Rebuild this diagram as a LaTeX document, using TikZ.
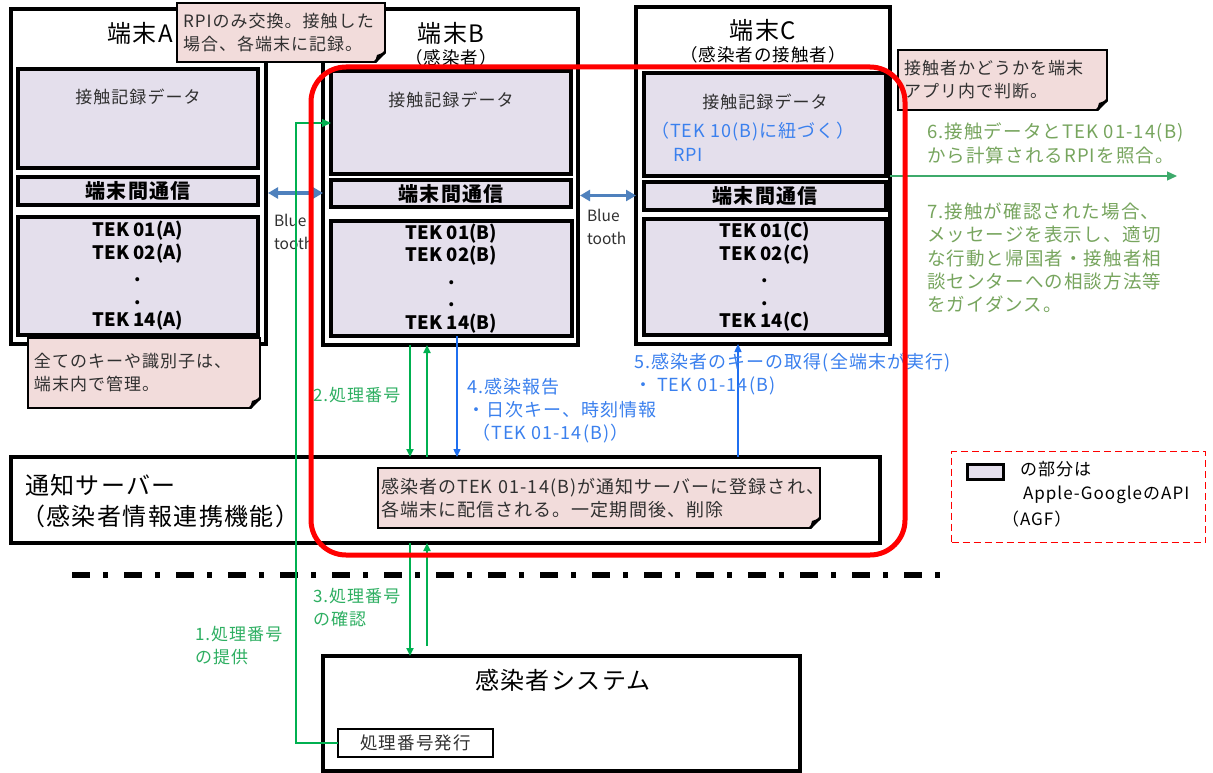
\documentclass[tikz,border=0pt]{standalone}
\usepackage{fontspec}
\setmainfont{Noto Sans CJK JP}[LetterSpace=6]
\newfontfamily\plainf{Noto Sans CJK JP}
\usetikzlibrary{arrows.meta,calc}
\definecolor{lav}{HTML}{E4DFEC}
\definecolor{pinkc}{HTML}{F2DCDB}
\definecolor{grn}{HTML}{00B050}
\definecolor{grntxt}{HTML}{2EAF62}
\definecolor{olive}{HTML}{77A55E}
\definecolor{arr6}{HTML}{3DAA6B}
\definecolor{blu}{HTML}{1F6FF0}
\definecolor{blutxt}{HTML}{3A80EE}
\definecolor{btc}{HTML}{4F81BD}
\definecolor{dtxt}{HTML}{303030}
\newcommand\fs[2]{\fontsize{#1}{#2}\selectfont}
\begin{document}
\begin{tikzpicture}[x=1pt,y=-1pt,
  outer/.style={draw=black,line width=4.5pt,fill=white,inner sep=0pt,outer sep=0pt,anchor=north west},
  inner/.style={draw=black,line width=3.5pt,fill=lav,inner sep=0pt,outer sep=0pt,anchor=north west},
  callout/.style={draw=black,line width=2.5pt,fill=pinkc,align=left,inner xsep=6pt,inner ysep=0pt,outer sep=0pt,anchor=north west,font=\fs{17}{23},text=dtxt},
  txt/.style={inner sep=0pt,outer sep=0pt,align=center},
  ltxt/.style={inner sep=0pt,outer sep=0pt,align=left,anchor=north west},
  title/.style={txt,font=\fs{24}{28}},
  sub/.style={txt,font=\fs{17.5}{20}},
  datat/.style={txt,font=\fs{17}{20},text=dtxt},
  commt/.style={txt,font=\bfseries\fs{20}{22}},
  tekt/.style={txt,font=\plainf\bfseries\fs{18.5}{22.5}},
  bt/.style={draw=btc,line width=3.5pt,{Triangle[length=10pt,width=11pt]}-{Triangle[length=10pt,width=11pt]}},
  garr/.style={draw=grn,line width=1.8pt,-{Triangle[length=8pt,width=7pt]}},
  g1/.style={draw=grn,line width=1.2pt,-{Triangle[length=9pt,width=8pt]}},
  barr/.style={draw=blu,line width=1.4pt,-{Triangle[length=8pt,width=7pt]}},
  gl/.style={ltxt,text=grntxt,font=\fs{17}{23}},
  bl/.style={ltxt,text=blutxt,font=\fs{18}{23}},
  ol/.style={ltxt,text=olive,font=\fs{18.5}{23.3}},
  fold/.style={fill=black}
]
\useasboundingbox (0,0) rectangle (1213,773);
\fill[white] (0,0) rectangle (1213,773);

% ---------- terminal A
\node[outer,minimum width=255,minimum height=335] (A) at (11,9) {};
\node[title] (tA) at (140,33) {端末A};
\node[inner,minimum width=240,minimum height=99] (Ad) at (18,69) {};
\node[datat] (Adt) at (Ad.center|-0,97) {接触記録データ};
\node[inner,minimum width=240,minimum height=28] (Ac) at (18,177) {};
\node[commt] (Act) at (Ac.center) {端末間通信};
\node[inner,minimum width=240,minimum height=118] (At) at (18,217) {};
\node[tekt] (Att) at (At.center) {TEK 01(A)\\TEK 02(A)\\.\\.\\TEK 14(A)};

% ---------- terminal B
\node[outer,minimum width=255,minimum height=336] (B) at (323,9) {};
\node[title] (tB) at (451,33) {端末B};
\node[sub] (sB) at (451,58) {（感染者）};
\node[inner,minimum width=240,minimum height=103] (Bd) at (331,71) {};
\node[datat] (Bdt) at (Bd.center|-0,100) {接触記録データ};
\node[inner,minimum width=240,minimum height=27] (Bc) at (331,180) {};
\node[commt] (Bct) at (Bc.center) {端末間通信};
\node[inner,minimum width=241,minimum height=115] (Bt) at (331,221) {};
\node[tekt] (Btt) at (Bt.center) {TEK 01(B)\\TEK 02(B)\\.\\.\\TEK 14(B)};

% ---------- terminal C
\node[outer,minimum width=254,minimum height=337] (C) at (636,7) {};
\node[title] (tC) at (763,30) {端末C};
\node[sub] (sC) at (763,55) {（感染者の接触者）};
\node[inner,minimum width=242,minimum height=103] (Cd) at (644,73) {};
\node[datat] (Cdt) at (Cd.center|-0,102) {接触記録データ};
\node[bl,anchor=west] (Cb1) at (651,132) {（TEK 10(B)に紐づく）};
\node[bl,anchor=west] (Cb2) at (673,155) {RPI};
\node[inner,minimum width=242,minimum height=28] (Cc) at (644,182) {};
\node[commt] (Cct) at (Cc.center) {端末間通信};
\node[inner,minimum width=242,minimum height=116] (Ct) at (644,219) {};
\node[tekt] (Ctt) at (Ct.center) {TEK 01(C)\\TEK 02(C)\\.\\.\\TEK 14(C)};

% ---------- callouts
\node[callout,text width=196,minimum height=59] (co1) at (177,3) {RPIのみ交換。接触した\\場合、各端末に記録。};
\node[callout,text width=220,minimum height=70] (co2) at (28,338) {全てのキーや識別子は、\\端末内で管理。};
\node[callout,text width=197,minimum height=60] (co3) at (898,50) {接触者かどうかを端末\\アプリ内で判断。};

% ---------- server
\node[outer,minimum width=869,minimum height=86] (S) at (11,457) {};
\node[ltxt,anchor=west,font=\fs{24}{28}] (St1) at (25,485) {通知サーバー};
\node[ltxt,anchor=west,font=\fs{24}{28}] (St2) at (21,516) {（感染者情報連携機能）};
\node[callout,inner xsep=3pt,text width=436,minimum height=60,font=\fs{18}{23}] (co4) at (378,468) {感染者のTEK 01-14(B)が通知サーバーに登録され、\\各端末に配信される。一定期間後、削除};

% ---------- infected system
\node[outer,minimum width=477,minimum height=115] (Sys) at (323,656) {};
\node[title] (Syst) at (563,680) {感染者システム};
\node[draw=black,line width=2.5pt,fill=white,minimum width=155,minimum height=28,inner sep=0pt,outer sep=0pt,anchor=north west,font=\fs{17.5}{20},text=dtxt] (iss) at (338,729) {処理番号発行};

% ---------- folds on callouts
\foreach \n in {co1,co2,co3,co4}{
  \fill[white] (\n.south east) ++(1.5,1.5) -- ++(-11,0) -- ++(11,-11) -- cycle;
  \draw[line width=2.5pt,line join=round] ($(\n.south east)+(-10,0)$) -- ($(\n.south east)+(0,-10)$);
  \fill[black] ($(\n.south east)+(-10,0)$) -- ($(\n.south east)+(0,-10)$) -- ($(\n.south east)+(-8,-7)$) -- cycle;
}

% ---------- bluetooth
\draw[bt] (Ac.east-|A.east) ++(2,2) coordinate (bt1s) -- (bt1s-|B.west) ;
\draw[bt] (Bc.east-|B.east) ++(2,2) coordinate (bt2s) -- (bt2s-|C.west);
\node[ltxt,anchor=west,font=\plainf\fs{15.5}{23},text=dtxt] (blA) at (274,232) {Blue\\tooth};
\node[ltxt,anchor=west,font=\plainf\fs{15.5}{23},text=dtxt] (blB) at (587,227) {Blue\\tooth};

% ---------- dash dot separator
\draw[line width=6pt,dash pattern=on 18pt off 13pt on 5pt off 16pt] (72,575) -- (948,575);

% ---------- green arrows
\coordinate (xa) at (410,0);
\coordinate (xb) at (427,0);
\coordinate (p1) at (296,123);
\draw[g1] (iss.west) -| (p1) -- (Bd.west|-p1);
\draw[garr] (B.south-|xa) -- (S.north-|xa);
\draw[garr] (S.north-|xb) -- (B.south-|xb);
\draw[garr] (S.south-|xa) -- (Sys.north-|xa);
\draw[garr] ($(Sys.north-|xb)+(0,-10)$) -- (S.south-|xb);
\node[gl,anchor=west] (l2) at (313,395) {2.処理番号};
\node[gl,anchor=west] (l3) at (313,608) {3.処理番号\\の確認};
\node[gl,anchor=west] (l1) at (195,646) {1.処理番号\\の提供};

% ---------- blue arrows
\coordinate (x4) at (457,0);
\coordinate (x5) at (738,0);
\draw[barr] (Bt.south-|x4) -- (S.north-|x4);
\draw[barr] (S.north-|x5) -- (C.south-|x5);
\node[bl] (l4) at (467,378) {4.感染報告\\・日次キー、時刻情報\\\ （TEK 01-14(B)）};
\node[bl] (l5) at (634,353) {5.感染者のキーの取得(全端末が実行)\\・ TEK 01-14(B)};

% ---------- step 6 / 7
\coordinate (e6) at (1177,176);
\draw[draw=arr6,line width=1.3pt,-{Triangle[length=10pt,width=9pt]}] (C.east|-e6) -- (e6);
\node[ol] (l6) at (927,123) {6.接触データとTEK 01-14(B)\\から計算されるRPIを照合。};
\node[ol] (l7) at (927,203) {7.接触が確認された場合、\\メッセージを表示し、適切\\な行動と帰国者・接触者相\\談センターへの相談方法等\\をガイダンス。};

% ---------- legend
\node[draw=red,line width=1.3pt,dash pattern=on 7pt off 4pt,minimum width=254,minimum height=91,inner sep=0pt,anchor=north west] (lg) at (951,451) {};
\node[draw=black,line width=3pt,fill=lav,minimum width=36,minimum height=15,inner sep=0pt,anchor=north west] (lgi) at (966,463) {};
\node[ltxt,anchor=west,font=\fs{17}{20}] (lgt1) at (1020,469) {の部分は};
\node[ltxt,anchor=west,font=\fs{17}{20}] (lgt2) at (1023,495) {Apple-GoogleのAPI};
\node[ltxt,anchor=west,font=\fs{17}{20}] (lgt3) at (1002,519) {（AGF）};

% ---------- red highlight
\draw[red,line width=5pt,rounded corners=35pt] (311,67) rectangle (905,555);
\end{tikzpicture}
\end{document}
